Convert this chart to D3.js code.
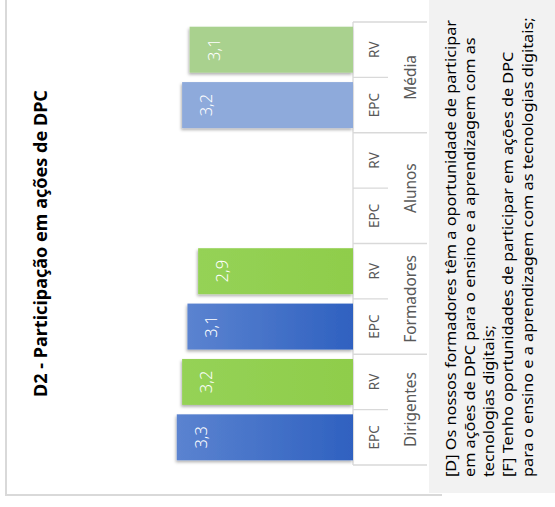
<!DOCTYPE html>
<html>
<head>
<meta charset="utf-8">
<script src="https://cdn.jsdelivr.net/npm/d3@7"></script>
<style>
  html, body { margin: 0; padding: 0; background: #ffffff; }
  svg { display: block; }
</style>
</head>
<body>
<svg id="chart" width="555" height="507"></svg>
<script>
// ---- data ----
const groups = ["Dirigentes", "Formadores", "Alunos", "Média"];
const seriesNames = ["EPC", "RV"];
const epcValues = [3.3, 3.1, null, 3.2];
const rvValues = [3.2, 2.9, null, 3.06];
const titleText = "D2 - Participação em ações de DPC";
const noteLines = [
  "[D] Os nossos formadores têm a oportunidade de participar",
  "em ações de DPC para o ensino e a aprendizagem com as",
  "tecnologias digitais;",
  "[F] Tenho oportunidades de participar em ações de DPC",
  "para o ensino e a aprendizagem com as tecnologias digitais;"
];

(function () {
const svg = d3.select("#chart");
const FONT = "'Noto Sans', 'Open Sans', sans-serif";

// defs: gradient + shadow
const defs = svg.append("defs");
const bg = defs.append("linearGradient").attr("id", "blueGrad")
  .attr("x1", "0").attr("x2", "1").attr("y1", "0").attr("y2", "0");
bg.append("stop").attr("offset", "0%").attr("stop-color", "#5b83d0");
bg.append("stop").attr("offset", "100%").attr("stop-color", "#2f61c0");
const gg = defs.append("linearGradient").attr("id", "greenGrad")
  .attr("x1", "0").attr("x2", "1").attr("y1", "0").attr("y2", "0");
gg.append("stop").attr("offset", "0%").attr("stop-color", "#95d256");
gg.append("stop").attr("offset", "100%").attr("stop-color", "#8fcd4b");
const sh = defs.append("filter").attr("id", "shadow")
  .attr("x", "-10%").attr("y", "-20%").attr("width", "120%").attr("height", "150%");
sh.append("feDropShadow").attr("dx", -1).attr("dy", 2).attr("stdDeviation", 1.5)
  .attr("flood-color", "#000").attr("flood-opacity", 0.3);

// chart frame
svg.append("path")
  .attr("d", "M6,-5 V495 H442")
  .attr("fill", "none").attr("stroke", "#d9d9d9").attr("stroke-width", 2);

// items (bottom to top)
const items = [];
groups.forEach((g, gi) => {
  seriesNames.forEach(s => {
    const v = s === "EPC" ? epcValues[gi] : rvValues[gi];
    items.push({ group: g, series: s, value: v, key: g + "|" + s });
  });
});

const yTop = 22, yBottom = 465, base = 353;
const y = d3.scaleBand()
  .domain(items.map(d => d.key).reverse())
  .range([yTop, yBottom])
  .paddingInner(0.17).paddingOuter(0.085);
const step = y.step();
const x = d3.scaleLinear().domain([0, 4]).range([base, 139.4]);

// table lines
const lineG = svg.append("g").attr("stroke", "#d9d9d9").attr("stroke-width", 1.3);
lineG.append("line").attr("x1", base).attr("x2", base).attr("y1", yTop).attr("y2", yBottom);
d3.range(items.length + 1).forEach(i => {
  const yy = yTop + i * step;
  const long = i % 2 === 0;
  lineG.append("line").attr("x1", base).attr("x2", long ? 427 : 388)
    .attr("y1", yy).attr("y2", yy);
});

// bars
function fillOf(d) {
  if (d.group === "Média") return d.series === "EPC" ? "#8eaadb" : "#a9d18e";
  return d.series === "EPC" ? "url(#blueGrad)" : "url(#greenGrad)";
}
const barData = items.filter(d => d.value != null);
svg.append("g").selectAll("rect").data(barData).join("rect")
  .attr("x", d => x(d.value))
  .attr("width", d => x(0) - x(d.value))
  .attr("y", d => y(d.key))
  .attr("height", y.bandwidth())
  .attr("fill", fillOf)
  .attr("filter", "url(#shadow)");

// value labels
const fmt = v => d3.format(".1f")(v).replace(".", ",");
svg.append("g").selectAll("text").data(barData).join("text")
  .attr("transform", d => `translate(${x(d.value) + 30},${y(d.key) + y.bandwidth() / 2}) rotate(-90)`)
  .attr("text-anchor", "middle")
  .attr("font-family", FONT)
  .attr("font-weight", 300)
  .attr("font-size", 16.5)
  .attr("fill", "#ffffff")
  .text(d => fmt(d.value));

// series labels
svg.append("g").selectAll("text").data(items).join("text")
  .attr("transform", d => `translate(379,${y(d.key) + y.bandwidth() / 2}) rotate(-90)`)
  .attr("text-anchor", "middle")
  .attr("font-family", FONT)
  .attr("font-size", 13.5)
  .attr("fill", "#595959")
  .text(d => d.series);

// helpers
function fitFont(sel, target, baseSize) {
  sel.each(function () {
    const len = this.getComputedTextLength();
    if (len > 0) d3.select(this).attr("font-size", baseSize * target / len);
  });
}

// group labels
const groupLbl = svg.append("g").selectAll("text").data(groups).join("text")
  .attr("transform", g => {
    const cy = (y(g + "|EPC") + y(g + "|RV") + y.bandwidth()) / 2;
    return `translate(416,${cy}) rotate(-90)`;
  })
  .attr("text-anchor", "middle")
  .attr("font-family", FONT)
  .attr("font-size", 14)
  .attr("fill", "#595959")
  .text(g => g);
const dirLbl = groupLbl.filter(g => g === "Dirigentes");
fitFont(dirLbl, 75, 14);
groupLbl.attr("font-size", +dirLbl.attr("font-size"));

// title
const title = svg.append("text")
  .attr("transform", "translate(47,243.5) rotate(-90)")
  .attr("text-anchor", "middle")
  .attr("font-family", FONT)
  .attr("font-weight", "bold")
  .attr("font-size", 18)
  .attr("fill", "#000")
  .text(titleText);
fitFont(title, 307, 18);

// annotation box
svg.append("rect").attr("x", 429).attr("y", -10).attr("width", 140).attr("height", 503)
  .attr("fill", "#f2f2f2");
const noteBaselines = [455.5, 474.8, 494.1, 513.4, 532.7];
const notes = svg.append("g").selectAll("text").data(noteLines).join("text")
  .attr("transform", (d, i) => `translate(${noteBaselines[i]},477) rotate(-90)`)
  .attr("text-anchor", "start")
  .attr("font-family", FONT)
  .attr("font-size", 14.5)
  .attr("fill", "#000")
  .text(d => d);
// condense horizontally so the first line spans the same length as in the reference
const firstLen = notes.filter((d, i) => i === 0).node().getComputedTextLength();
const factor = 457 / firstLen;
notes.each(function () {
  const len = this.getComputedTextLength();
  d3.select(this).attr("textLength", len * factor).attr("lengthAdjust", "spacingAndGlyphs");
});
})();
</script>
</body>
</html>
